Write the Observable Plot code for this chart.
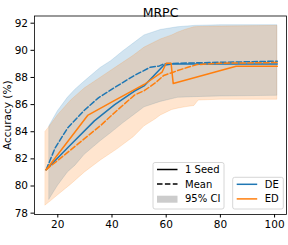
<!DOCTYPE html>
<html>
<head>
<meta charset="utf-8">
<script src="https://cdn.jsdelivr.net/npm/d3@7"></script>
<script src="https://cdn.jsdelivr.net/npm/@observablehq/plot@0.6"></script>
<style>
  html, body { margin: 0; padding: 0; background: #fff; }
</style>
</head>
<body>
<div id="chart"></div>
<script>
// ---- data ----
const title = "MRPC";
const yLabel = "Accuracy (%)";
const xTicks = [20, 40, 60, 80, 100];
const yTicks = [78, 80, 82, 84, 86, 88, 90, 92];

const deSeedX = [15.7, 24, 33.5, 41, 48.3, 52, 56.1, 59.1, 62, 70, 80, 101];
const deSeedY = [81.2, 82.9, 84.8, 86.0, 87.0, 87.4, 88.27, 88.9, 89.0, 89.0, 89.0, 89.0];

const deMeanX = [15.7, 19, 23.7, 29.9, 35, 42.1, 48.3, 54.2, 57.5, 59.1, 65, 76, 101];
const deMeanY = [81.2, 82.8, 84.3, 85.6, 86.5, 87.4, 88.15, 88.76, 88.85, 89.0, 89.05, 89.1, 89.2];

const edSeedX = [15.7, 31, 40, 48.3, 52, 56.7, 58.5, 60, 61.8, 62.6, 85.8, 101];
const edSeedY = [81.2, 85.2, 86.2, 87.1, 87.5, 88.15, 88.4, 89.05, 89.05, 87.55, 88.83, 88.83];

const edMeanX = [15.7, 25, 35.8, 42, 48.3, 52, 56, 59.1, 62.8, 64.1, 68, 71.4, 80, 101];
const edMeanY = [81.2, 82.7, 84.46, 85.6, 86.7, 87.04, 87.6, 88.15, 88.4, 88.5, 88.75, 88.95, 89.05, 89.1];

const deCiX  = [16.9, 20, 23.7, 26.5, 29.9, 35.8, 39.7, 44, 48, 52, 58, 64.3, 70.4, 80, 101];
const deCiHi = [84.4, 85.5, 86.5, 87.1, 87.7, 88.7, 89.2, 89.9, 90.5, 91.1, 91.5, 91.7, 91.8, 91.85, 91.85];
const deCiLo = [79.0, 80.0, 81.0, 81.5, 82.3, 83.3, 83.9, 84.6, 85.2, 85.8, 86.2, 86.5, 86.55, 86.6, 86.65];

const edCiX  = [15.5, 17.3, 20, 24.9, 30, 36, 42, 48, 52, 56, 58, 62.2, 64.3, 67, 70.4, 72, 80, 101];
const edCiHi = [84.0, 84.45, 85.2, 86.3, 87.2, 88.0, 88.8, 89.6, 90.2, 90.6, 90.8, 91.1, 91.3, 91.5, 91.7, 91.72, 91.75, 91.8];
const edCiLo = [78.57, 78.85, 79.3, 80.1, 81.0, 81.9, 82.7, 83.6, 84.4, 84.9, 85.2, 85.6, 85.7, 85.8, 85.9, 86.3, 86.36, 86.36];

const colorDE = "#1f77b4";
const colorED = "#ff7f0e";

// ---- tables ----
const line = (xs, ys) => xs.map((x, i) => ({x, y: ys[i]}));
const band = (xs, lo, hi) => xs.map((x, i) => ({x, lo: lo[i], hi: hi[i]}));

const deSeed = line(deSeedX, deSeedY);
const deMean = line(deMeanX, deMeanY);
const edSeed = line(edSeedX, edSeedY);
const edMean = line(edMeanX, edMeanY);
const deCi = band(deCiX, deCiLo, deCiHi);
const edCi = band(edCiX, edCiLo, edCiHi);

const dash = "5.5,2.4";

const plot = Plot.plot({
  width: 288,
  height: 245,
  marginLeft: 34,
  marginRight: 2,
  marginTop: 15.5,
  marginBottom: 31,
  style: {fontFamily: "DejaVu Sans", fontSize: "10.5px", color: "#000", background: "#fff"},
  x: {domain: [11.4, 104.4]},
  y: {domain: [77.9, 92.53]},
  marks: [
    Plot.areaY(deCi, {x: "x", y1: "lo", y2: "hi", fill: colorDE, fillOpacity: 0.2, stroke: colorDE, strokeOpacity: 0.2, strokeWidth: 0.8}),
    Plot.areaY(edCi, {x: "x", y1: "lo", y2: "hi", fill: colorED, fillOpacity: 0.2, stroke: colorED, strokeOpacity: 0.2, strokeWidth: 0.8}),
    Plot.line(deSeed, {x: "x", y: "y", stroke: colorDE, strokeWidth: 1.5}),
    Plot.line(deMean, {x: "x", y: "y", stroke: colorDE, strokeWidth: 1.5, strokeDasharray: dash}),
    Plot.line(edSeed, {x: "x", y: "y", stroke: colorED, strokeWidth: 1.5}),
    Plot.line(edMean, {x: "x", y: "y", stroke: colorED, strokeWidth: 1.5, strokeDasharray: dash}),
    Plot.frame({stroke: "#000", strokeWidth: 0.8}),
    Plot.axisX({ticks: xTicks, tickSize: 3.5, tickPadding: 3, label: null, tickFormat: d => String(d)}),
    Plot.axisY({ticks: yTicks, tickSize: 3.5, tickPadding: 3, label: null, tickFormat: d => String(d)}),
    Plot.text([yLabel], {frameAnchor: "left", textAnchor: "middle", rotate: -90, dx: -27, text: d => d, fontSize: 10.5}),
    Plot.text([title], {frameAnchor: "top", dy: -8, text: d => d, fontSize: 12.5})
  ]
});

document.getElementById("chart").appendChild(plot);

// ---- legends ----
const svg = d3.select(plot);
function legend(x, y, w, h, items) {
  const g = svg.append("g").attr("font-family", "DejaVu Sans").attr("font-size", 10)
    .attr("text-anchor", "start");
  g.append("rect").attr("x", x).attr("y", y).attr("width", w).attr("height", h)
    .attr("rx", 2).attr("fill", "#fff").attr("fill-opacity", 0.8)
    .attr("stroke", "#ccc").attr("stroke-width", 0.8);
  items.forEach((it, i) => {
    const cy = y + 7 + i * 14.6;
    if (it.patch) {
      g.append("rect").attr("x", x + 4).attr("y", cy - 3).attr("width", 20.5).attr("height", 7)
        .attr("fill", it.color);
    } else {
      g.append("line").attr("x1", x + 4).attr("x2", x + 24.5).attr("y1", cy).attr("y2", cy)
        .attr("stroke", it.color).attr("stroke-width", 1.5)
        .attr("stroke-dasharray", it.dash ? dash : null);
    }
    g.append("text").attr("x", x + 32).attr("y", cy).attr("dy", "0.35em")
      .attr("text-anchor", "start").attr("fill", "#000").text(it.label);
  });
}
legend(153, 162.5, 71, 46.5, [
  {label: "1 Seed", color: "#000"},
  {label: "Mean", color: "#000", dash: true},
  {label: "95% CI", color: "#cccccc", patch: true}
]);
legend(232.7, 177.3, 50.6, 31.7, [
  {label: "DE", color: colorDE},
  {label: "ED", color: colorED}
]);
</script>
</body>
</html>
